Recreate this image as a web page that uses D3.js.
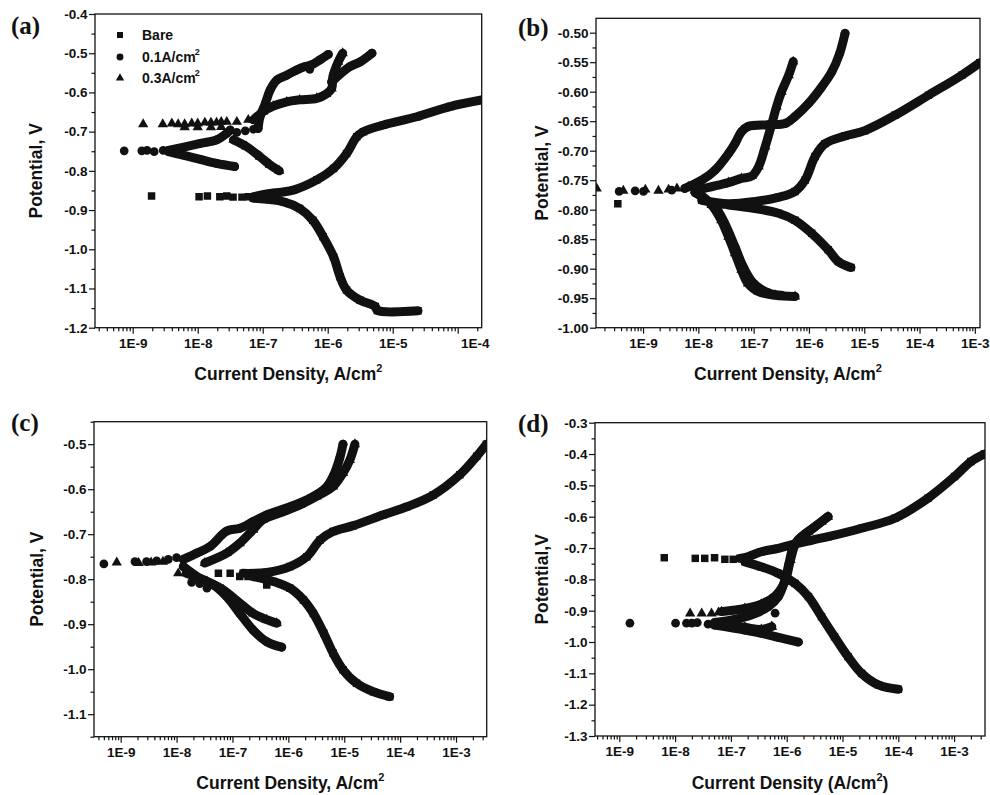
<!DOCTYPE html>
<html><head><meta charset="utf-8">
<script src="https://cdn.jsdelivr.net/npm/d3@7/dist/d3.min.js"></script>
<style>
body{margin:0;background:#fff;}
svg{display:block;}
text{font-family:"Liberation Sans",Arial,sans-serif;font-weight:bold;fill:#111;}
</style>
</head><body>
<svg id="chart" width="990" height="795"></svg>
<script>
// ---------------- DATA ----------------
const seriesNames = ["Bare", "0.1A/cm", "0.3A/cm"];
const decadeTicksA = [1e-9, 1e-8, 1e-7, 1e-6, 1e-5, 1e-4];
const decadeTicksB = [1e-9, 1e-8, 1e-7, 1e-6, 1e-5, 1e-4, 1e-3];
const yTicksA = [-1.2, -1.1, -1.0, -0.9, -0.8, -0.7, -0.6, -0.5, -0.4];
const yTicksB = [-1.00, -0.95, -0.90, -0.85, -0.80, -0.75, -0.70, -0.65, -0.60, -0.55, -0.50];
const yTicksC = [-1.1, -1.0, -0.9, -0.8, -0.7, -0.6, -0.5];
const yTicksD = [-1.3, -1.2, -1.1, -1.0, -0.9, -0.8, -0.7, -0.6, -0.5, -0.4, -0.3];

// Panel (a)
const aBarePts = [[1.95e-9,-0.864],[1.05e-8,-0.866],[1.41e-8,-0.864],[2.19e-8,-0.866],[2.8e-8,-0.864],[3.5e-8,-0.867],[4.8e-8,-0.867],[6.0e-8,-0.866]];
const aBareAnodic = [[7.2e-8,-0.866],[1.15e-7,-0.859],[2.95e-7,-0.849],[6.8e-7,-0.823],[1.23e-6,-0.794],[1.95e-6,-0.756],[2.8e-6,-0.713],[3.55e-6,-0.700],[7.2e-6,-0.683],[2.35e-5,-0.662],[7.6e-5,-0.636],[2.57e-4,-0.618]];
const aBareCathodic = [[7.2e-8,-0.870],[2.09e-7,-0.879],[3.7e-7,-0.896],[5.9e-7,-0.926],[8.5e-7,-0.968],[1.23e-6,-1.019],[1.55e-6,-1.070],[1.95e-6,-1.104],[3.16e-6,-1.130],[5.4e-6,-1.146],[5.8e-6,-1.156],[2.45e-5,-1.157]];
const aLowPts = [[7.4e-10,-0.749],[1.38e-9,-0.749],[1.66e-9,-0.748],[2.14e-9,-0.751],[2.95e-9,-0.748],[4.0e-8,-0.702],[5.4e-8,-0.698],[7.2e-8,-0.694],[4.8e-7,-0.534],[5.3e-7,-0.541]];
const aLowAnodic1 = [[3.55e-9,-0.748],[1.1e-8,-0.730],[1.95e-8,-0.721],[2.8e-8,-0.704],[3.16e-8,-0.696]];
const aLowAnodic2 = [[8.5e-8,-0.692],[9.1e-8,-0.662],[1.1e-7,-0.628],[1.3e-7,-0.594],[1.66e-7,-0.568],[2.35e-7,-0.556],[3.3e-7,-0.543],[4.5e-7,-0.534],[5.6e-7,-0.530],[7.6e-7,-0.517],[1.02e-6,-0.503]];
const aLowAnodic3 = [[1.15e-6,-0.573],[2.2e-6,-0.534],[3.16e-6,-0.522],[4.8e-6,-0.500]];
const aLowCathodic = [[3.55e-9,-0.751],[6.0e-9,-0.760],[1.1e-8,-0.771],[1.95e-8,-0.781],[3.7e-8,-0.789]];
const aHighPts = [[1.45e-9,-0.681],[2.9e-9,-0.681],[4.0e-9,-0.679],[5.0e-9,-0.681],[6.3e-9,-0.681],[8.1e-9,-0.679],[1.0e-8,-0.679],[1.29e-8,-0.677],[1.6e-8,-0.677],[1.95e-8,-0.677],[2.3e-8,-0.675],[2.8e-8,-0.675],[4.0e-8,-0.675],[6.0e-8,-0.670],[6.3e-9,-0.689],[1.0e-8,-0.689],[1.6e-8,-0.689],[2.3e-8,-0.688]];
const aHighAnodic = [[7.2e-8,-0.670],[1.02e-7,-0.649],[1.45e-7,-0.635],[2.35e-7,-0.624],[3.7e-7,-0.619],[6.8e-7,-0.615],[9.5e-7,-0.604],[1.15e-6,-0.590],[1.2e-6,-0.560],[1.29e-6,-0.543],[1.45e-6,-0.522],[1.7e-6,-0.500]];
const aHighCathodic = [[3.55e-8,-0.721],[5.6e-8,-0.738],[9.1e-8,-0.764],[1.3e-7,-0.785],[1.8e-7,-0.800]];

// Panel (b)
const bBarePts = [[3.5e-10,-0.790],[2.6e-8,-0.792],[6.0e-8,-0.792]];
const bBareAnodic = [[1.15e-8,-0.784],[3.5e-8,-0.790],[1.07e-7,-0.786],[2.8e-7,-0.779],[5.6e-7,-0.769],[8.5e-7,-0.750],[1.29e-6,-0.710],[1.95e-6,-0.688],[4.5e-6,-0.675],[1.02e-5,-0.666],[3.6e-5,-0.640],[1.45e-4,-0.606],[5.8e-4,-0.572],[1.23e-3,-0.551]];
const bBareCathodic = [[3.5e-8,-0.792],[1.07e-7,-0.798],[2.8e-7,-0.806],[5.6e-7,-0.818],[1.12e-6,-0.840],[2.24e-6,-0.868],[3.4e-6,-0.888],[5.75e-6,-0.898]];
const bLowPts = [[3.7e-10,-0.769],[7.2e-10,-0.768],[1.02e-9,-0.769],[3.3e-9,-0.767]];
const bLowAnodic = [[5.7e-9,-0.764],[1.15e-8,-0.750],[2.0e-8,-0.733],[3.5e-8,-0.705],[4.6e-8,-0.688],[6.0e-8,-0.668],[7.9e-8,-0.659],[1.86e-7,-0.656],[3.7e-7,-0.654],[5.6e-7,-0.642],[9.8e-7,-0.620],[1.7e-6,-0.592],[2.6e-6,-0.566],[3.6e-6,-0.535],[4.5e-6,-0.501]];
const bLowCathodic = [[8.7e-9,-0.771],[2.0e-8,-0.795],[3.0e-8,-0.823],[4.6e-8,-0.863],[6.5e-8,-0.897],[1.0e-7,-0.925],[1.86e-7,-0.941],[3.2e-7,-0.945]];
const bHighPts = [[1.45e-10,-0.764],[4.4e-10,-0.768],[1.1e-9,-0.766],[1.9e-9,-0.768],[2.9e-9,-0.766],[4.1e-9,-0.764],[6.6e-9,-0.761]];
const bHighAnodic = [[8.7e-9,-0.767],[3.5e-8,-0.754],[6.0e-8,-0.747],[9.3e-8,-0.743],[1.23e-7,-0.727],[1.62e-7,-0.693],[2.14e-7,-0.654],[2.6e-7,-0.625],[3.2e-7,-0.600],[4.3e-7,-0.572],[5.2e-7,-0.549]];
const bHighCathodic = [[1.0e-8,-0.772],[1.74e-8,-0.792],[2.6e-8,-0.818],[3.5e-8,-0.846],[4.6e-8,-0.874],[6.0e-8,-0.902],[7.9e-8,-0.925],[1.23e-7,-0.939],[2.45e-7,-0.945],[5.6e-7,-0.947]];

// Panel (c)
const cBarePts = [[5.6e-8,-0.787],[9.1e-8,-0.787],[1.35e-7,-0.794],[1.9e-7,-0.794],[4.1e-7,-0.813]];
const cBareAnodic = [[1.55e-7,-0.787],[4.1e-7,-0.785],[1.07e-6,-0.772],[2.14e-6,-0.750],[3.7e-6,-0.713],[6.3e-6,-0.694],[1.45e-5,-0.681],[5.0e-5,-0.657],[1.32e-4,-0.639],[3.9e-4,-0.613],[1.17e-3,-0.568],[2.34e-3,-0.527],[3.5e-3,-0.500]];
const cBareCathodic = [[2.34e-7,-0.794],[5.4e-7,-0.805],[1.07e-6,-0.820],[1.86e-6,-0.846],[2.8e-6,-0.876],[4.3e-6,-0.920],[6.3e-6,-0.964],[9.5e-6,-1.001],[1.66e-5,-1.031],[3.3e-5,-1.050],[6.5e-5,-1.061]];
const cLowPts = [[5.0e-10,-0.766],[1.8e-9,-0.761],[2.9e-9,-0.761],[4.4e-9,-0.759],[7.1e-9,-0.756],[1.0e-8,-0.752],[1.86e-8,-0.807],[2.6e-8,-0.810],[3.5e-8,-0.820]];
const cLowAnodic = [[1.32e-8,-0.756],[2.3e-8,-0.742],[4.0e-8,-0.727],[7.9e-8,-0.693],[1.35e-7,-0.687],[2.34e-7,-0.672],[4.1e-7,-0.657],[1.07e-6,-0.639],[2.45e-6,-0.620],[4.6e-6,-0.598],[6.3e-6,-0.572],[8.3e-6,-0.531],[9.5e-6,-0.500]];
const cLowCathodic = [[1.32e-8,-0.772],[2.6e-8,-0.798],[4.6e-8,-0.813],[7.9e-8,-0.839],[1.35e-7,-0.876],[2.34e-7,-0.913],[4.1e-7,-0.939],[7.6e-7,-0.951]];
const cHighPts = [[8.5e-10,-0.763],[2.1e-9,-0.764],[3.5e-9,-0.763],[5.7e-9,-0.761],[1.07e-8,-0.787]];
const cHighAnodic = [[3.2e-8,-0.764],[7.9e-8,-0.742],[1.35e-7,-0.720],[2.34e-7,-0.690],[3.5e-7,-0.668],[8.1e-7,-0.650],[1.62e-6,-0.635],[3.2e-6,-0.616],[6.3e-6,-0.594],[9.5e-6,-0.564],[1.26e-5,-0.535],[1.55e-5,-0.500]];
const cHighCathodic = [[1.5e-8,-0.787],[3.5e-8,-0.805],[6.9e-8,-0.824],[1.35e-7,-0.853],[2.34e-7,-0.876],[4.1e-7,-0.890],[6.2e-7,-0.898]];

// Panel (d)
const dBarePts = [[6.4e-9,-0.731],[2.3e-8,-0.733],[3.4e-8,-0.733],[5.1e-8,-0.731],[7.8e-8,-0.736],[1.1e-7,-0.736]];
const dBareAnodic = [[1.45e-7,-0.733],[2.0e-7,-0.728],[3.5e-7,-0.712],[7.1e-7,-0.701],[1.41e-6,-0.687],[5.5e-6,-0.664],[2.2e-5,-0.637],[8.7e-5,-0.605],[3.4e-4,-0.541],[1.02e-3,-0.472],[2.0e-3,-0.424],[3.5e-3,-0.400]];
const dBareCathodic = [[1.78e-7,-0.744],[3.5e-7,-0.760],[7.1e-7,-0.781],[1.41e-6,-0.813],[2.45e-6,-0.855],[4.2e-6,-0.919],[7.2e-6,-0.983],[1.26e-5,-1.047],[2.2e-5,-1.100],[4.4e-5,-1.137],[1.0e-4,-1.151]];
const dLowPts = [[1.55e-9,-0.940],[1.02e-8,-0.940],[1.6e-8,-0.940],[2.0e-8,-0.940],[2.5e-8,-0.938],[3.9e-8,-0.943],[6.2e-7,-0.908]];
const dLowAnodic = [[5.1e-8,-0.938],[1.17e-7,-0.928],[2.7e-7,-0.909],[4.7e-7,-0.887],[7.1e-7,-0.855],[9.3e-7,-0.802],[1.1e-6,-0.749],[1.32e-6,-0.696],[1.86e-6,-0.664],[3.2e-6,-0.632],[5.5e-6,-0.600]];
const dLowCathodic = [[5.1e-8,-0.946],[1.78e-7,-0.962],[3.5e-7,-0.972],[7.1e-7,-0.985],[1.62e-6,-1.000]];
const dHighPts = [[1.86e-8,-0.909],[3.0e-8,-0.909],[4.5e-8,-0.909],[6.0e-8,-0.906],[5.4e-7,-0.951]];
const dHighAnodic = [[6.8e-8,-0.903],[1.78e-7,-0.893],[3.5e-7,-0.879],[6.2e-7,-0.853],[9.3e-7,-0.807],[1.17e-6,-0.738],[1.5e-6,-0.680],[2.45e-6,-0.648],[4.2e-6,-0.616],[5.5e-6,-0.600]];
const dHighCathodic = [[6.8e-8,-0.943],[1.78e-7,-0.953],[3.5e-7,-0.960],[5.4e-7,-0.951]];

// ---------------- LAYOUT ----------------
const SYM = {square: d3.symbolSquare, circle: d3.symbolCircle, triangle: d3.symbolTriangle};
const SIZE = {square: 56, circle: 60, triangle: 46};
const kinds = ["square", "circle", "triangle"];

const panels = [
  {id:"a", left:95, right:481.7, top:14, bottom:327.7, xDomain:[2.63e-10, 2.34e-4], yDomain:[-1.2,-0.4],
   xTicks:decadeTicksA, yTicks:yTicksA, dec:1, yTitle:"Potential, V", yTitleX:41.5, xTitle:1, label:"(a)", lx:11, ly:34, legend:true,
   series:[[aBarePts,[aBareAnodic,aBareCathodic]],[aLowPts,[aLowAnodic1,aLowAnodic2,aLowAnodic3,aLowCathodic]],[aHighPts,[aHighAnodic,aHighCathodic]]]},
  {id:"b", left:596, right:980, top:18.3, bottom:327.7, xDomain:[1.41e-10, 1.24e-3], yDomain:[-1.0,-0.4756],
   xTicks:decadeTicksB, yTicks:yTicksB, dec:2, yTitle:"Potential, V", yTitleX:548, xTitle:1, label:"(b)", lx:518, ly:36,
   series:[[bBarePts,[bBareAnodic,bBareCathodic]],[bLowPts,[bLowAnodic,bLowCathodic]],[bHighPts,[bHighAnodic,bHighCathodic]]]},
  {id:"c", left:94, right:486.7, top:421.7, bottom:736.7, xDomain:[3.33e-10, 3.54e-3], yDomain:[-1.15,-0.45],
   xTicks:decadeTicksB, yTicks:yTicksC, dec:1, yTitle:"Potential, V", yTitleX:43, xTitle:1, label:"(c)", lx:11, ly:431,
   series:[[cBarePts,[cBareAnodic,cBareCathodic]],[cLowPts,[cLowAnodic,cLowCathodic]],[cHighPts,[cHighAnodic,cHighCathodic]]]},
  {id:"d", left:595, right:985, top:422.7, bottom:736, xDomain:[3.67e-10, 3.58e-3], yDomain:[-1.3,-0.3],
   xTicks:decadeTicksB, yTicks:yTicksD, dec:1, yTitle:"Potential,V", yTitleX:548, xTitle:2, label:"(d)", lx:518, ly:432,
   series:[[dBarePts,[dBareAnodic,dBareCathodic]],[dLowPts,[dLowAnodic,dLowCathodic]],[dHighPts,[dHighAnodic,dHighCathodic]]]}
];

const INK = "#111";
const svg = d3.select("#chart");
const defs = svg.append("defs");

panels.forEach(p => {
  const x = d3.scaleLog().domain(p.xDomain).range([p.left, p.right]);
  const y = d3.scaleLinear().domain(p.yDomain).range([p.bottom, p.top]);
  const g = svg.append("g");

  defs.append("clipPath").attr("id", "clip-" + p.id).append("rect")
    .attr("x", p.left).attr("y", p.top).attr("width", p.right - p.left).attr("height", p.bottom - p.top);
  const plot = g.append("g").attr("clip-path", `url(#clip-${p.id})`);

  const line = d3.line().x(d => x(d[0])).y(d => y(d[1])).curve(d3.curveCatmullRom.alpha(0.5));

  p.series.forEach(([pts, branches], si) => {
    const kind = kinds[si];
    branches.forEach(b => {
      plot.append("path").datum(b).attr("d", line)
        .attr("fill", "none").attr("stroke", INK).attr("stroke-width", 9)
        .attr("stroke-linecap", "round").attr("stroke-linejoin", "round");
    });
    const all = pts.concat(...branches);
    plot.append("g").selectAll("path").data(all).join("path")
      .attr("transform", d => `translate(${x(d[0])},${y(d[1])})`)
      .attr("d", d3.symbol(SYM[kind], SIZE[kind])())
      .attr("fill", INK);
  });

  // minor ticks
  const lo = Math.floor(Math.log10(p.xDomain[0])), hi = Math.ceil(Math.log10(p.xDomain[1]));
  const xMinor = [];
  for (let e = lo; e <= hi; e++) for (let k = 2; k <= 9; k++) {
    const v = k * Math.pow(10, e);
    if (v > p.xDomain[0] && v < p.xDomain[1]) xMinor.push(v);
  }
  const step = p.yTicks[1] - p.yTicks[0];
  const yMinor = [];
  for (let i = -1; i < p.yTicks.length; i++) {
    const v = p.yTicks[0] + (i + 0.5) * step;
    if (v >= p.yDomain[0] - 1e-9 && v <= p.yDomain[1] + 1e-9) yMinor.push(v);
  }

  const xAxisMinor = g.append("g").attr("transform", `translate(0,${p.bottom})`)
    .call(d3.axisBottom(x).tickValues(xMinor).tickFormat("").tickSize(3.5).tickSizeOuter(0));
  const xAxis = g.append("g").attr("transform", `translate(0,${p.bottom})`)
    .call(d3.axisBottom(x).tickValues(p.xTicks).tickFormat(d => "1E" + Math.round(Math.log10(d))).tickSize(6).tickSizeOuter(0).tickPadding(4.5));
  const yAxisMinor = g.append("g").attr("transform", `translate(${p.left},0)`)
    .call(d3.axisLeft(y).tickValues(yMinor).tickFormat("").tickSize(3.5).tickSizeOuter(0));
  const yAxis = g.append("g").attr("transform", `translate(${p.left},0)`)
    .call(d3.axisLeft(y).tickValues(p.yTicks).tickFormat(d => d.toFixed(p.dec)).tickSize(6).tickSizeOuter(0).tickPadding(1.5));

  [xAxisMinor, xAxis, yAxisMinor, yAxis].forEach(a => {
    a.select(".domain").remove();
    a.selectAll(".tick line").attr("stroke", INK).attr("stroke-width", 1.2);
    a.selectAll(".tick text").attr("fill", INK).style("font-size", "13.5px")
      .style("font-family", '"Liberation Sans", Arial, sans-serif').style("font-weight", "bold");
  });
  // shift the right-most label in panel (a) like the original
  if (p.id === "a") xAxis.selectAll(".tick text").filter(d => d === 1e-4).attr("dx", 17);

  g.append("rect").attr("x", p.left).attr("y", p.top).attr("width", p.right - p.left).attr("height", p.bottom - p.top)
    .attr("fill", "none").attr("stroke", INK).attr("stroke-width", 1.3);

  // titles
  const cx = (p.left + p.right) / 2, cy = (p.top + p.bottom) / 2;
  g.append("text").attr("transform", `translate(${p.yTitleX},${cy}) rotate(-90)`)
    .attr("text-anchor", "middle").style("font-size", "17.5px").text(p.yTitle);
  const xt = g.append("text").attr("x", cx).attr("y", p.bottom + 52.5).attr("text-anchor", "middle").style("font-size", "17.5px");
  if (p.xTitle === 1) {
    xt.append("tspan").text("Current Density, A/cm");
    xt.append("tspan").attr("dy", -8).style("font-size", "11px").text("2");
  } else {
    xt.append("tspan").text("Current Density (A/cm");
    xt.append("tspan").attr("dy", -8).style("font-size", "11px").text("2");
    xt.append("tspan").attr("dy", 8).text(")");
  }
  g.append("text").attr("x", p.lx).attr("y", p.ly)
    .style("font-family", '"Liberation Serif","Times New Roman",serif').style("font-size", "25px").text(p.label);

  if (p.legend) {
    const lg = g.append("g");
    seriesNames.forEach((name, i) => {
      const yy = [35, 57, 78][i];
      lg.append("path").attr("transform", `translate(120,${yy})`)
        .attr("d", d3.symbol(SYM[kinds[i]], [36, 38, 30][i])()).attr("fill", INK);
      const t = lg.append("text").attr("x", 142).attr("y", yy + 5).style("font-size", "14px");
      t.append("tspan").text(name);
      if (i > 0) t.append("tspan").attr("dx", -1).attr("dy", -7).style("font-size", "9px").text("2");
    });
  }
});
</script>
</body></html>
